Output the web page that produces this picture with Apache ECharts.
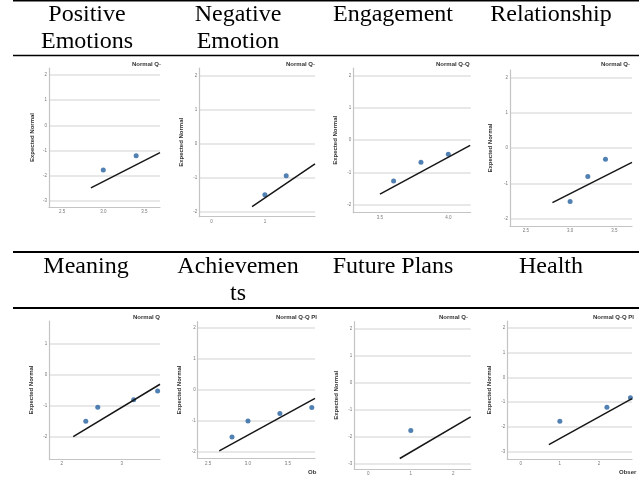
<!DOCTYPE html>
<html><head><meta charset="utf-8">
<script src="https://cdn.jsdelivr.net/npm/echarts@6/dist/echarts.min.js"></script>
<style>html,body{margin:0;padding:0;background:#fff}#c{width:639px;height:489px}</style>
</head><body><div id="c"></div>
<script>
// ---- data ----
const headerLines = [["Positive","Emotions"],["Negative","Emotion"],["Engagement"],["Relationship"],
                     ["Meaning"],["Achievemen","ts"],["Future Plans"],["Health"]];
const plotTitles = ["Normal Q-","Normal Q-","Normal Q-Q","Normal Q-","Normal Q","Normal Q-Q Pl","Normal Q-","Normal Q-Q Pl"];
const yAxisTitle = "Expected Normal";
const xAxisFragments = ["","","","","","Ob","","Obser"];
const observedValues = [[3.0,3.4],[1.0,1.4],[3.6,3.8,4.0],[3.0,3.2,3.4],[2.4,2.6,3.2,3.6],[2.8,3.0,3.4,3.8],[1.0],[1.0,2.2,2.8]];
const expectedNormal = [[-1.77,-1.20],[-1.51,-0.95],[-1.27,-0.69,-0.44],[-1.51,-0.80,-0.31],[-1.51,-1.06,-0.82,-0.54],[-1.52,-1.01,-0.77,-0.57],[-1.78],[-1.77,-1.20,-0.82]];
const refLineX = [[2.85,3.69],[0.76,1.94],[3.50,4.16],[2.80,3.70],[2.19,3.64],[2.64,3.84],[0.74,2.41],[0.72,2.84]];
const refLineY = [[-2.48,-1.08],[-1.86,-0.60],[-1.68,-0.16],[-1.54,-0.40],[-2.01,-0.32],[-1.97,-0.28],[-2.82,-1.27],[-2.71,-0.86]];
const xTickStep = [0.5,1,0.5,0.5,1,0.5,1,1];
const yTickStep = [1,1,1,1,1,1,1,1];
const xMin = [2.34,-0.23,3.305,2.32,1.79,2.37,-0.33,-0.34];
const xMax = [3.69,1.94,4.164,3.70,3.64,3.84,2.41,2.84];
const yMin = [-3.24,-2.16,-2.26,-2.20,-2.73,-2.21,-3.21,-3.29];
const yMax = [2.28,2.24,2.25,2.21,1.72,2.19,2.27,2.27];

// ---- layout ----
const gridBoxes = [[49,68,111,139],[199.3,68,115.7,148.7],[353.3,68,117.4,144.7],[510,70,122,156],
                   [49.3,321,110.7,138],[197.7,321.7,117.3,136.6],[354.3,321.7,116.4,147.3],[507.3,321,124.7,138]];
const headerX = [87,238,393,551,86,238,393,551];
const headerRowY = [[14.6,41.3],[14.6,41.3],[14.6,41.3],[14.6,41.3],[267,293.7],[267,293.7],[267,293.7],[267,293.7]];
const titlePos = [[132,64],[286,64],[436,64],[601,64],[133,317],[276,317],[439,317.5],[593,317]];
const fragPos = [null,null,null,null,null,[308,472],null,[619,472]];
const nameGaps = [14,15,15,17,14.6,15,15.3,14.6];

function stepFormatter(step){
  return function(v){
    const k = v/step;
    if (Math.abs(k-Math.round(k))>1e-6) return '';
    return step<1 ? v.toFixed(1) : String(Math.round(v));
  };
}

const grid=[], xAxis=[], yAxis=[], series=[], graphic=[];
for (let i=0;i<8;i++){
  const b=gridBoxes[i];
  grid.push({left:b[0],top:b[1],width:b[2],height:b[3],containLabel:false,outerBoundsMode:'none'});
  xAxis.push({gridIndex:i,type:'value',min:xMin[i],max:xMax[i],minInterval:xTickStep[i],maxInterval:xTickStep[i],
    axisLine:{show:true,onZero:false,lineStyle:{color:'#c4c4c4',width:1.2}},
    axisTick:{show:false},splitLine:{show:false},
    axisLabel:{fontSize:4.5,color:'#777',margin:2.5,fontFamily:'Liberation Sans',formatter:stepFormatter(xTickStep[i])}});
  yAxis.push({gridIndex:i,type:'value',min:yMin[i],max:yMax[i],minInterval:yTickStep[i],maxInterval:yTickStep[i],
    name:yAxisTitle,nameLocation:'middle',nameRotate:90,nameGap:nameGaps[i],
    nameTextStyle:{fontSize:6,fontWeight:'bold',color:'#333',fontFamily:'Liberation Sans'},
    axisLine:{show:true,onZero:false,lineStyle:{color:'#c4c4c4',width:1.2}},
    axisTick:{show:false},
    splitLine:{show:true,showMinLine:false,showMaxLine:false,lineStyle:{color:'#e1e1e1',width:1.5}},
    axisLabel:{fontSize:4.5,color:'#777',margin:2,fontFamily:'Liberation Sans',formatter:stepFormatter(yTickStep[i])}});
  series.push({type:'line',xAxisIndex:i,yAxisIndex:i,showSymbol:false,silent:true,
    data:refLineX[i].map((x,j)=>[x,refLineY[i][j]]),lineStyle:{color:'#161616',width:1.5}});
  series.push({type:'scatter',xAxisIndex:i,yAxisIndex:i,symbolSize:5,
    data:observedValues[i].map((x,j)=>[x,expectedNormal[i][j]]),itemStyle:{color:'#25619f'}});
  headerLines[i].forEach((t,j)=>{
    graphic.push({type:'text',x:headerX[i],y:headerRowY[i][j],silent:true,
      style:{text:t,fill:'#000',font:'24px "Liberation Serif"',align:'center',verticalAlign:'middle',textAlign:'center',textVerticalAlign:'middle'}});
  });
  graphic.push({type:'text',x:titlePos[i][0],y:titlePos[i][1],silent:true,
    style:{text:plotTitles[i],fill:'#333',font:'bold 6px "Liberation Sans"',align:'left',verticalAlign:'middle',textAlign:'left',textVerticalAlign:'middle'}});
  if (fragPos[i]) graphic.push({type:'text',x:fragPos[i][0],y:fragPos[i][1],silent:true,
    style:{text:xAxisFragments[i],fill:'#333',font:'bold 6px "Liberation Sans"',align:'left',verticalAlign:'middle',textAlign:'left',textVerticalAlign:'middle'}});
}
const rules = [[0.8,1.6],[55.5,1.6],[252,2],[308,2]];
rules.forEach(r=>graphic.push({type:'line',silent:true,shape:{x1:13,y1:r[0],x2:639,y2:r[0]},style:{stroke:'#000',lineWidth:r[1]}}));

const chart = echarts.init(document.getElementById('c'),null,{renderer:'canvas'});
chart.setOption({animation:false,backgroundColor:'#fff',grid,xAxis,yAxis,series,graphic});
</script></body></html>
